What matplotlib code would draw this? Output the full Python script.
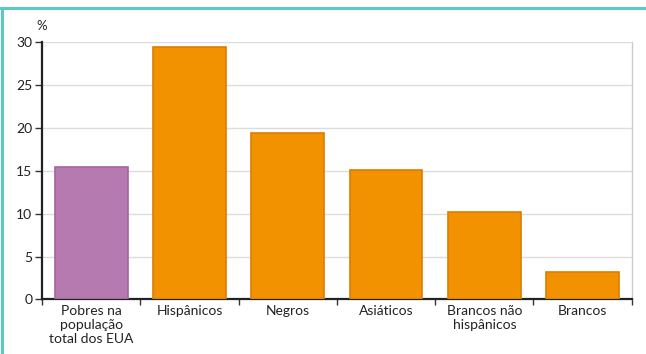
import matplotlib
matplotlib.use("Agg")
import matplotlib.pyplot as plt
from matplotlib.lines import Line2D

plt.rcParams['font.family'] = ['Lato', 'DejaVu Sans']

categories = ["Pobres na\npopulação\ntotal dos EUA", "Hispânicos", "Negros",
              "Asiáticos", "Brancos não\nhispânicos", "Brancos"]
values = [15.4, 29.4, 19.4, 15.1, 10.2, 3.2]
yticks = [0, 5, 10, 15, 20, 25, 30]

fill_colors = ["#b57bb1"] + ["#f39200"] * 5
edge_colors = ["#a266a0"] + ["#dc7d00"] * 5

fig = plt.figure(figsize=(6.46, 3.54), dpi=100)
ax = fig.add_axes([0.065, 0.154, 0.913, 0.727])

x = list(range(len(categories)))
ax.bar(x, values, width=0.74, color=fill_colors, edgecolor=edge_colors,
       linewidth=1.2, zorder=3)

ax.set_xlim(-0.5, len(categories) - 0.5)
ax.set_ylim(0, 30)
ax.set_yticks(yticks)
ax.set_yticklabels([str(t) for t in yticks], fontsize=10, color="#222222")
ax.yaxis.grid(True, color="#dcdcdc", linewidth=1.0, zorder=0)
ax.set_axisbelow(True)

# category labels centred under bars, ticks at category boundaries
ax.set_xticks(x)
ax.set_xticklabels(categories, fontsize=10, color="#222222", linespacing=1.2)
ax.tick_params(axis='x', length=0, pad=4)
ax.set_xticks([i - 0.5 for i in range(len(categories) + 1)], minor=True)
ax.tick_params(axis='x', which='minor', length=4, width=1.0, color="#333333",
               direction='out')
ax.tick_params(axis='y', length=5, width=1.0, color="#333333", pad=2)

ax.spines["top"].set_visible(False)
ax.spines["right"].set_color("#cccccc")
ax.spines["right"].set_linewidth(1.0)
ax.spines["left"].set_color("#222222")
ax.spines["left"].set_linewidth(1.6)
ax.spines["bottom"].set_color("#222222")
ax.spines["bottom"].set_linewidth(1.6)

ax.text(-0.009, 1.062, "%", transform=ax.transAxes, fontsize=9.5,
        ha="left", va="center", color="#222222")

# page frame
teal = "#5cc9c2"
fig.add_artist(Line2D([0, 1], [1 - 7.5 / 354, 1 - 7.5 / 354],
                      transform=fig.transFigure, color=teal, linewidth=2.2))
fig.add_artist(Line2D([2 / 646, 2 / 646], [0, 1 - 7.5 / 354],
                      transform=fig.transFigure, color=teal, linewidth=2.2))

fig.savefig("out.png", dpi=100)
